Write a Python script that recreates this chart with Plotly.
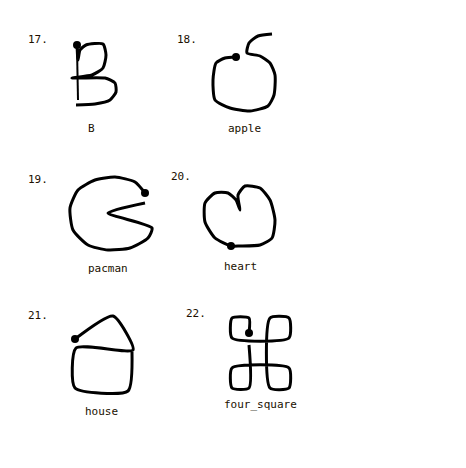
import plotly.graph_objects as go

# gesture strokes in image pixel coordinates
names = ["B", "apple", "pacman", "heart", "house", "four_square"]
numbers = ["17.", "18.", "19.", "20.", "21.", "22."]
num_x = [38, 187, 38, 181, 38, 196]
num_y = [39, 39, 179, 176, 315, 313]
label_x = [91, 244, 108, 240, 101, 260]
label_y = [128, 128, 268, 266, 411, 404]

strokes_x = [
    [77, 78, 80, 86, 103, 106, 103, 92, 72, 105, 115, 116, 110, 95, 76],
    [236, 225, 216, 213, 215, 230, 250, 268, 274, 275, 270, 260, 247, 249, 258, 272],
    [145, 135, 115, 95, 78, 70, 73, 88, 108, 130, 148, 152, 108, 145],
    [231, 215, 205, 205, 215, 228, 236, 240, 238, 245, 260, 270, 275, 272, 260, 240, 231],
    [75, 113, 133, 76, 75, 128, 132],
    [249, 249, 232, 232, 289, 289, 270, 270, 289, 289, 232, 232, 249, 249],
]
strokes_y = [
    [45, 60, 50, 45, 44, 55, 68, 75, 78, 78, 83, 92, 100, 104, 105],
    [57, 58, 63, 80, 100, 108, 111, 106, 95, 75, 63, 56, 53, 43, 36, 34],
    [193, 182, 177, 180, 190, 208, 230, 245, 250, 248, 238, 228, 213, 203],
    [246, 238, 222, 203, 193, 193, 200, 210, 195, 186, 188, 200, 220, 238, 245, 246, 246],
    [339, 316, 350, 348, 388, 391, 352],
    [333, 318, 318, 338, 338, 318, 318, 388, 388, 368, 368, 388, 388, 345],
]
# B has an extra vertical stroke
b_bar_x = [77, 78]
b_bar_y = [48, 100]

fig = go.Figure()
for xs, ys in zip(strokes_x, strokes_y):
    fig.add_trace(go.Scatter(x=xs, y=ys, mode="lines",
                             line=dict(color="black", width=3, shape="spline", smoothing=0.6)))
    fig.add_trace(go.Scatter(x=[xs[0]], y=[ys[0]], mode="markers",
                             marker=dict(color="black", size=8)))
fig.add_trace(go.Scatter(x=b_bar_x, y=b_bar_y, mode="lines", line=dict(color="black", width=2)))

font = dict(family="DejaVu Sans Mono", size=11, color="#201000")
for i in range(len(names)):
    fig.add_annotation(x=num_x[i], y=num_y[i], text=numbers[i], showarrow=False, font=font)
    fig.add_annotation(x=label_x[i], y=label_y[i], text=names[i], showarrow=False, font=font)

# page body adds an 8px margin, so shift the axis window to compensate
fig.update_layout(
    width=466, height=468, margin=dict(l=0, r=0, t=0, b=0),
    plot_bgcolor="white", paper_bgcolor="white", showlegend=False,
    xaxis=dict(range=[8, 474], visible=False),
    yaxis=dict(range=[476, 8], visible=False),
)
fig.write_html("out.html")
